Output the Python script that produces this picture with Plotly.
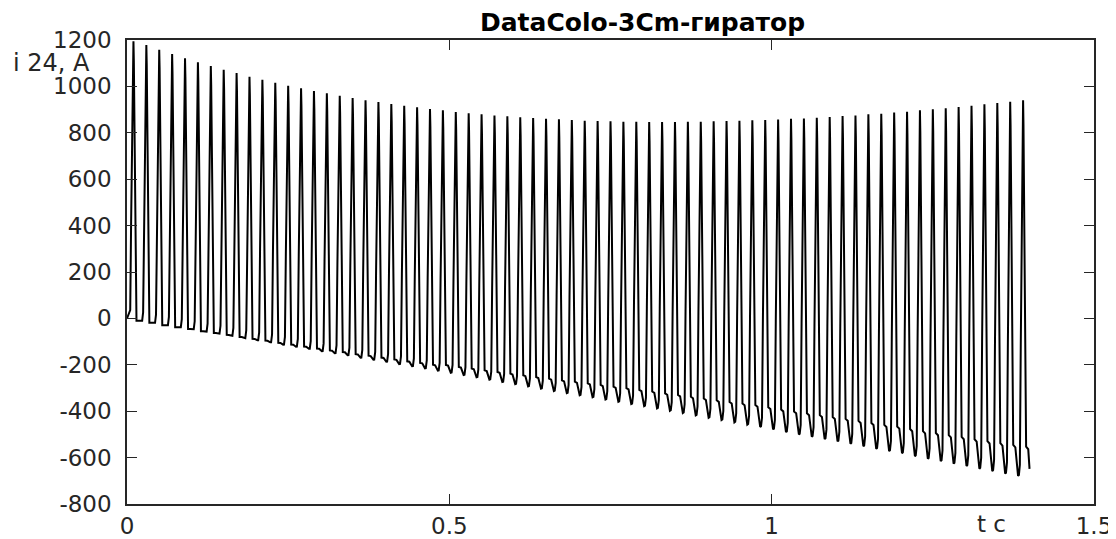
import plotly.graph_objects as go

# ---------------- data ----------------
period = 0.02          # s, pulse period
first_peak_t = 0.01    # s, time of first peak
t_end = 1.40           # s, end of record
initial_level = 0      # A, level before first pulse

peaks = [1195, 1178, 1158, 1140, 1121, 1104, 1088, 1072, 1058, 1042,
         1029, 1016, 1003, 992, 980, 970, 960, 950, 940, 933,
         924, 917, 910, 903, 897, 890, 884, 880, 875, 871,
         867, 864, 860, 858, 855, 852, 851, 850, 848, 848,
         846, 846, 846, 848, 848, 850, 851, 852, 854, 855,
         857, 860, 862, 865, 868, 872, 875, 880, 882, 887,
         891, 897, 901, 906, 911, 917, 923, 928, 934, 940]

troughs = [-10, -19, -29, -38, -47, -57, -66, -75, -85, -94,
           -103, -113, -122, -131, -141, -150, -159, -169, -178, -187,
           -197, -206, -215, -225, -234, -244, -254, -264, -274, -283,
           -293, -303, -313, -322, -331, -340, -350, -359, -369, -378,
           -388, -398, -408, -418, -428, -438, -448, -458, -468, -478,
           -490, -500, -510, -520, -530, -540, -551, -562, -572, -581,
           -594, -605, -615, -626, -636, -648, -658, -669, -679, -690]

shelves = [-10, -19, -29, -38, -46, -55, -63, -71, -80, -88,
           -96, -105, -113, -121, -130, -138, -145, -154, -161, -169,
           -177, -185, -192, -200, -201, -209, -216, -224, -231, -238,
           -245, -253, -260, -267, -273, -280, -287, -294, -301, -308,
           -315, -323, -330, -338, -345, -353, -360, -367, -373, -383,
           -393, -401, -409, -417, -425, -433, -442, -451, -459, -466,
           -477, -486, -494, -503, -511, -521, -529, -538, -545, -553]

# pulse outline within one period (time after peak, fraction)
fall_shape = [(0.0, 1.0), (0.0006, 0.93), (0.0015, 0.75), (0.0028, 0.40),
              (0.0040, 0.08), (0.0047, 0.0)]
dip_shape = [(0.0080, 0.08), (0.0088, 0.30), (0.0100, 0.70), (0.0112, 0.95),
             (0.0122, 1.0), (0.0135, 0.97)]
rise_shape = [(0.0150, 0.03), (0.0164, 0.35), (0.0179, 0.74), (0.0193, 0.94)]

y_ticks = [-800, -600, -400, -200, 0, 200, 400, 600, 800, 1000, 1200]
y_tick_text = ["-800", "-600", "-400", "-200", "0", "200", "400", "600", "800", "1000", "1200"]
x_ticks = [0, 0.5, 1, 1.5]
x_tick_text = ["0", "0.5", "1", "1.5"]

# ---------------- build trace ----------------
ts = [0.0]
vs = [initial_level]
for tau, f in rise_shape:
    ts.append(first_peak_t - period + tau)
    vs.append(initial_level + f * (peaks[0] - initial_level))

for k in range(len(peaks)):
    t0 = first_peak_t + k * period
    P, S, M = peaks[k], shelves[k], troughs[k]
    pts = [(tau, S + f * (P - S)) for tau, f in fall_shape]
    pts += [(tau, S - f * (S - M)) for tau, f in dip_shape]
    if k + 1 < len(peaks):
        Pn = peaks[k + 1]
        pts += [(tau, M + f * (Pn - M)) for tau, f in rise_shape]
    for tau, v in pts:
        if t0 + tau <= t_end + 1e-9:
            ts.append(t0 + tau)
            vs.append(v)

FONT = "DejaVu Sans, Verdana, sans-serif"
AX = "#262626"

fig = go.Figure()
fig.add_trace(go.Scatter(x=ts, y=vs, mode="lines",
                         line=dict(color="black", width=2),
                         hoverinfo="skip", showlegend=False))

# page body adds an 8px offset, so the figure is sized to fit the window
fig.update_layout(
    width=1108, height=531,
    margin=dict(l=119, r=22, t=32, b=35),
    paper_bgcolor="white", plot_bgcolor="white",
    font=dict(family=FONT, size=23, color=AX),
    showlegend=False,
)
fig.update_xaxes(range=[0, 1.5], tickvals=x_ticks, ticktext=x_tick_text,
                 showgrid=False, zeroline=False, showline=True, linecolor=AX,
                 linewidth=1.5, mirror="ticks", ticks="inside", ticklen=10,
                 tickwidth=1, tickcolor=AX, tickfont=dict(size=23, color=AX),
                 ticklabelstandoff=1, automargin=False)
fig.update_yaxes(range=[-800, 1200], tickvals=y_ticks, ticktext=y_tick_text,
                 showgrid=False, zeroline=False, showline=True, linecolor=AX,
                 linewidth=1.5, mirror="ticks", ticks="inside", ticklen=10,
                 tickwidth=1, tickcolor=AX, tickfont=dict(size=23, color=AX),
                 ticklabelstandoff=9, automargin=False)

fig.add_annotation(text="<b>DataColo-3Cm-гиратор</b>", xref="paper", yref="paper",
                   x=0.5336, y=1.0, yanchor="bottom", xanchor="center",
                   showarrow=False, font=dict(size=25, color="black", family=FONT),
                   yshift=1)
fig.add_annotation(text="i 24, A", xref="paper", yref="paper",
                   x=-0.120, y=0.950, xanchor="left", yanchor="middle",
                   showarrow=False, font=dict(size=24, color=AX, family=FONT))
fig.add_annotation(text="t c", xref="paper", yref="paper",
                   x=0.894, y=-0.0754, xanchor="center", yanchor="bottom",
                   showarrow=False, font=dict(size=23, color=AX, family=FONT))

fig.write_html("out.html")
